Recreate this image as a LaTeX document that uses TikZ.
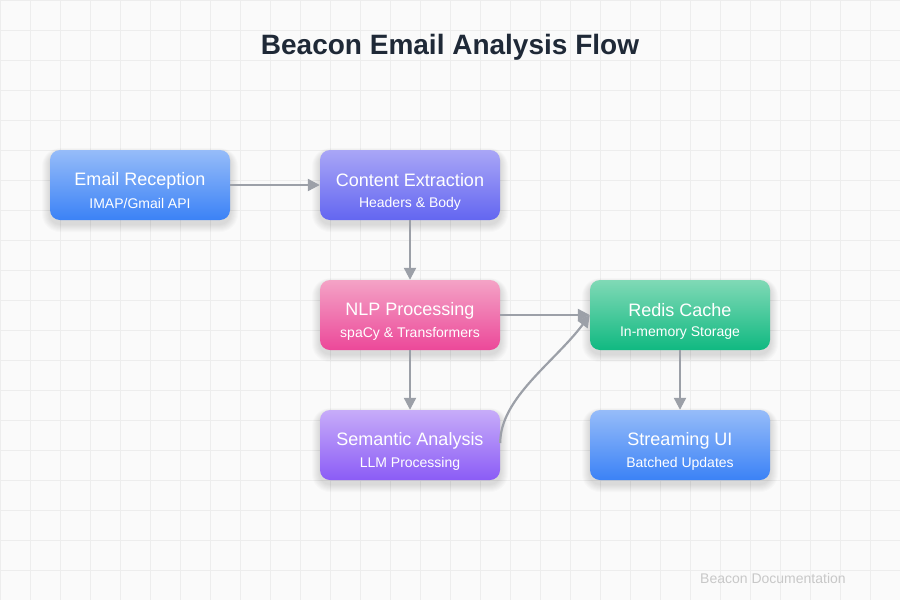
\documentclass[tikz,border=0pt]{standalone}
\usepackage{fontspec}
\setmainfont{Liberation Sans}
\usetikzlibrary{arrows.meta}
\definecolor{bgc}{HTML}{FAFAFA}
\definecolor{gridc}{HTML}{EDEDED}
\definecolor{titlec}{HTML}{1F2937}
\definecolor{arrowc}{HTML}{9CA0A8}
\definecolor{footc}{HTML}{C8C8C8}
\definecolor{blueT}{HTML}{96BCF9}
\definecolor{blueB}{HTML}{3B82F6}
\definecolor{indT}{HTML}{A9A6F6}
\definecolor{indB}{HTML}{6366F1}
\definecolor{pinkT}{HTML}{F4A3C6}
\definecolor{pinkB}{HTML}{EC4899}
\definecolor{purT}{HTML}{C7ACF9}
\definecolor{purB}{HTML}{8B5CF6}
\definecolor{grnT}{HTML}{80D9B6}
\definecolor{grnB}{HTML}{10B981}
\tikzset{
  card/.style={rounded corners=10pt, minimum width=180pt, minimum height=70pt, inner sep=0pt, shading=axis, shading angle=0},
  cardtitle/.style={text=white, font=\fontsize{18}{21}\selectfont, inner sep=0pt, anchor=center},
  cardsub/.style={text=white, font=\fontsize{14}{16}\selectfont, inner sep=0pt, anchor=center},
  flow/.style={draw=arrowc, line width=2.2pt, -{Triangle[length=12pt,width=12pt]}},
}
% #1 name, #2 cx, #3 cy, #4 top colour, #5 bottom colour, #6 title, #7 subtitle
\newcommand{\mycard}[7]{%
  \foreach \i in {1,...,8}{%
    \fill[black, opacity=0.014, rounded corners=10pt+\i pt]
      (#2-90-\i, #3-35+3-\i*0.6) rectangle (#2+90+\i, #3+35+4+\i);
  }
  \node[card, top color=#4, bottom color=#5] (#1) at (#2,#3) {};
  \node[cardtitle] (#1-t) at (#2,#3-4.5) {#6};
  \node[cardsub] (#1-s) at (#2,#3+18.5) {#7};
}
\begin{document}
\begin{tikzpicture}[x=1pt,y=-1pt]
\useasboundingbox (0,0) rectangle (900,600);
\fill[bgc] (0,0) rectangle (900,600);
\foreach \x in {0,30,...,900} \draw[gridc, line width=1pt] (\x,0) -- (\x,600);
\foreach \y in {0,30,...,600} \draw[gridc, line width=1pt] (0,\y) -- (900,\y);

\node[text=titlec, font=\bfseries\fontsize{28}{32}\selectfont, inner sep=0pt] (title) at (450,47.5) {Beacon Email Analysis Flow};

\mycard{er}{140}{185}{blueT}{blueB}{Email Reception}{IMAP/Gmail API}
\mycard{ce}{410}{185}{indT}{indB}{Content Extraction}{Headers \& Body}
\mycard{nlp}{410}{315}{pinkT}{pinkB}{NLP Processing}{spaCy \& Transformers}
\mycard{sa}{410}{445}{purT}{purB}{Semantic Analysis}{LLM Processing}
\mycard{rc}{680}{315}{grnT}{grnB}{Redis Cache}{In-memory Storage}
\mycard{su}{680}{445}{blueT}{blueB}{Streaming UI}{Batched Updates}

\draw[flow] (er.east) -- (ce.west);
\draw[flow] (ce.south) -- (nlp.north);
\draw[flow] (nlp.east) -- (rc.west);
\draw[flow] (nlp.south) -- (sa.north);
\draw[flow] (rc.south) -- (su.north);
\draw[flow] ([yshift=2pt]sa.east) .. controls +(0,-45) and +(-35,47) .. (rc.west);

\node[text=footc, font=\fontsize{14}{16}\selectfont, inner sep=0pt, anchor=west] (foot) at (700,578) {Beacon Documentation};
\end{tikzpicture}
\end{document}
